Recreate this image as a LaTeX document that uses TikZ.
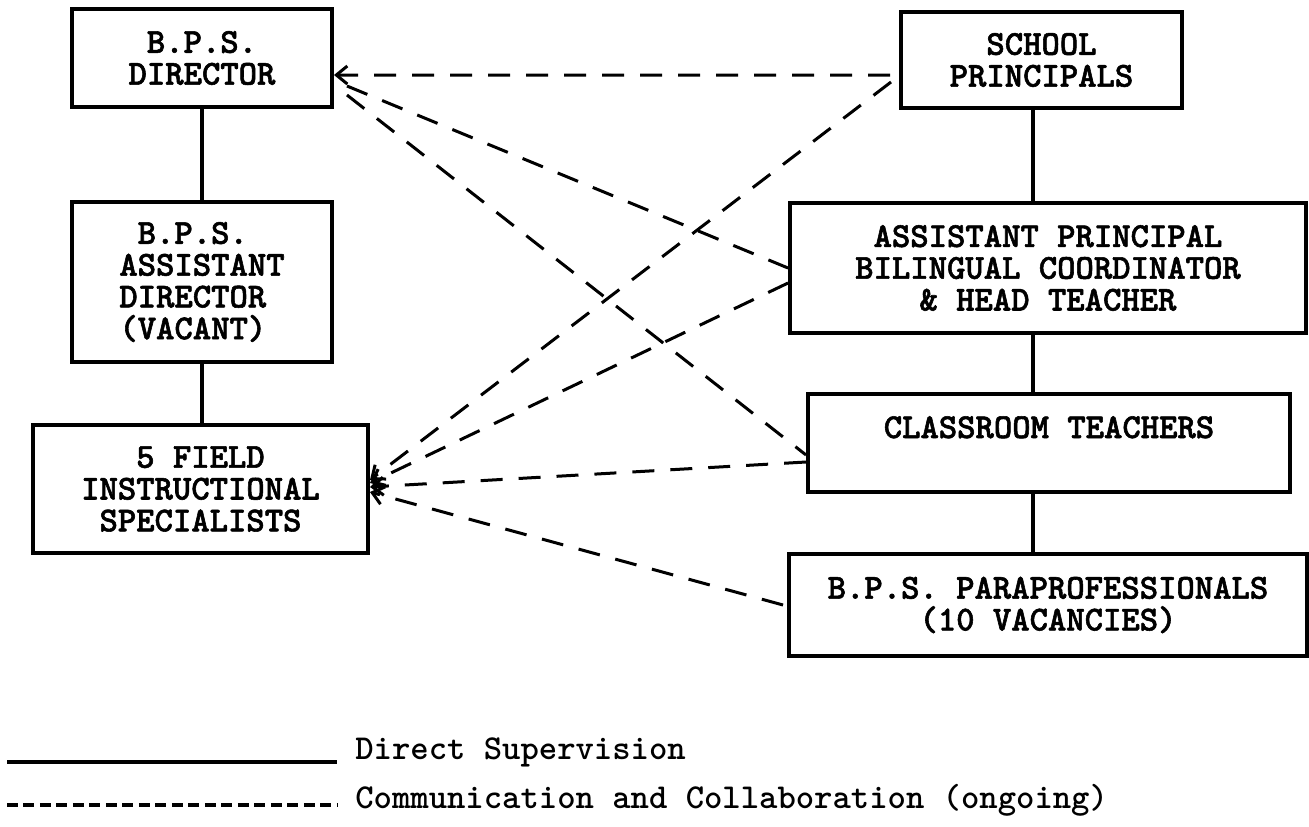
\documentclass[tikz,border=0pt]{standalone}
\usepackage{fontspec}
\newfontfamily\boxfont{Latin Modern Mono Light}[BoldFeatures={FakeBold=1.6}]
\newfontfamily\keyfont{Latin Modern Mono Light}
\usetikzlibrary{arrows.meta,positioning,calc}

\begin{document}
\begin{tikzpicture}[x=0.02cm, y=-0.02cm,
  unit/.style={draw, line width=0.08cm, inner sep=0pt, align=center,
    font=\boxfont\bfseries\fontsize{19.9}{18.1}\selectfont},
  link/.style={line width=0.07cm},
  collab/.style={line width=0.06cm, dash pattern=on 0.44cm off 0.32cm},
  tip/.style={-{Straight Barb[length=0.22cm,width=0.36cm]}},
  legendtext/.style={anchor=base west, inner sep=0pt,
    font=\keyfont\bfseries\fontsize{19.9}{18.1}\selectfont}]
\useasboundingbox (0,0) rectangle (1309,826);

\node[unit, align=left, minimum width=5.2cm, minimum height=1.96cm] (dir) at (202,58) {\hphantom{X}B.P.S.\\DIRECTOR};
\node[unit, align=left, minimum width=5.2cm, minimum height=3.2cm] (asstdir) at (202,282) {\hphantom{X}B.P.S.\\ASSISTANT\\DIRECTOR\\(VACANT)};
\node[unit, minimum width=6.7cm, minimum height=2.56cm] (field) at (200.5,489) {5 FIELD\\INSTRUCTIONAL\\SPECIALISTS};

\node[unit, minimum width=5.62cm, minimum height=1.92cm] (principals) at (1041.5,60) {SCHOOL\\PRINCIPALS};
\node[unit, minimum width=10.32cm, minimum height=2.6cm] (asstprin) at (1048,268) {ASSISTANT PRINCIPAL\\BILINGUAL COORDINATOR\\\& HEAD TEACHER};
\node[unit, minimum width=9.64cm, minimum height=1.96cm] (teachers) at (1049,443) {CLASSROOM TEACHERS\\\mbox{}};
\node[unit, minimum width=10.36cm, minimum height=2.04cm] (parapro) at (1048,605) {B.P.S. PARAPROFESSIONALS\\(10 VACANCIES)};

\draw[link] (dir) -- (asstdir);
\draw[link] (asstdir) -- (asstdir |- field.north);
\coordinate (spine) at (1033,0);
\draw[link] (principals.south -| spine) -- (asstprin.north -| spine);
\draw[link] (asstprin.south -| spine) -- (teachers.north -| spine);
\draw[link] (teachers.south -| spine) -- (parapro.north -| spine);

\draw[collab, tip] ([xshift=-0.18cm, yshift=-0.3cm]principals.west) -- ([yshift=-0.34cm]dir.east);
\draw[collab] ([xshift=0.26cm, yshift=-0.56cm]dir.east) -- (asstprin.west);
\draw[collab] ([xshift=0.26cm, yshift=-0.74cm]dir.east) -- ([yshift=-0.24cm]teachers.west);
\draw[collab, tip] ([xshift=-0.16cm, yshift=-0.44cm]principals.west) -- ([yshift=0.18cm]field.east);
\draw[collab, tip] ([yshift=-0.3cm]asstprin.west) -- ([yshift=0.12cm]field.east);
\draw[collab, tip] ([yshift=-0.38cm]teachers.west) -- ([yshift=0.04cm]field.east);
\draw[collab, tip] ([xshift=-0.08cm]parapro.west) -- ([yshift=-0.06cm]field.east);

\coordinate (solidA) at (7,762);
\coordinate (solidB) at (337,762);
\draw[line width=0.08cm] (solidA) -- (solidB);
\node[legendtext] (supervision) at (355,759) {Direct Supervision};
\coordinate (dashA) at (7,805);
\coordinate (dashB) at (337,805);
\draw[line width=0.08cm, dash pattern=on 0.22cm off 0.11cm] (dashA) -- (dashB);
\node[legendtext] (communication) at (355,808) {Communication and Collaboration (ongoing)};
\end{tikzpicture}
\end{document}
